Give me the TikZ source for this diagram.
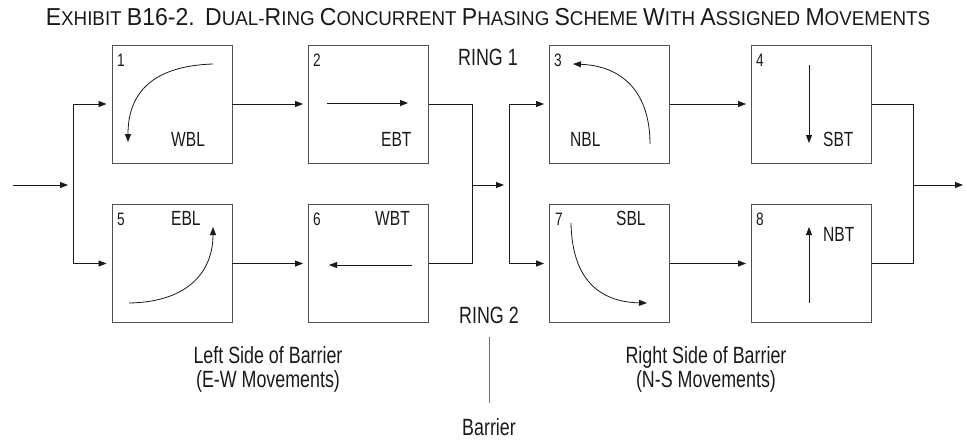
\documentclass[tikz,border=0pt]{standalone}
\usepackage{fontspec}
\setmainfont{Liberation Sans}[FakeStretch=0.76]
\newfontfamily\titlefont{Liberation Sans}[FakeStretch=0.94]
\usetikzlibrary{arrows.meta,positioning,calc}
\definecolor{ink}{HTML}{1A1A1A}
\definecolor{frame}{HTML}{505050}
\definecolor{barline}{HTML}{707070}
\newcommand{\ttlcap}[1]{{\fontsize{24.5}{24.5}\selectfont #1}}

\begin{document}
\begin{tikzpicture}[x=1pt,y=-1pt,
  phase/.style={draw=frame,line width=0.9pt,minimum width=120pt,minimum height=118pt,inner sep=0pt},
  flow/.style={draw=ink,line width=0.8pt,-{Triangle[length=8pt,width=6pt]},shorten >=5pt},
  wire/.style={draw=ink,line width=0.8pt},
  move/.style={draw=ink,line width=0.8pt,-{Triangle[length=8pt,width=6pt]}},
  num/.style={font=\fontsize{18}{18}\selectfont,text=ink,anchor=base west,inner sep=0pt},
  mlab/.style={font=\fontsize{20.5}{20.5}\selectfont,text=ink,anchor=base west,inner sep=0pt},
  big/.style={font=\fontsize{23.5}{24}\selectfont,text=ink,align=center,anchor=base,inner sep=0pt}]
  \useasboundingbox (0,0) rectangle (966,440);
  % title
  \node[anchor=base,inner sep=0pt,text=ink,font=\titlefont\fontsize{20}{20}\selectfont] (title) at (488,25)
    {\ttlcap{E}XHIBIT \ttlcap{B16-2.}\ \ \ttlcap{D}UAL-\ttlcap{R}ING \ttlcap{C}ONCURRENT \ttlcap{P}HASING \ttlcap{S}CHEME \ttlcap{W}ITH \ttlcap{A}SSIGNED \ttlcap{M}OVEMENTS};
  % phase boxes
  \node[phase] (p1) at (172,104) {};
  \node[phase] (p2) at (368.5,104) {};
  \node[phase] (p3) at (609.5,104) {};
  \node[phase] (p4) at (811.5,104) {};
  \node[phase] (p5) at (172,263.5) {};
  \node[phase] (p6) at (368.5,263.5) {};
  \node[phase] (p7) at (609.5,263.5) {};
  \node[phase] (p8) at (811.5,263.5) {};
  % phase numbers
  \foreach \n/\x/\y in {1/117/66, 2/313/66, 3/554/66, 4/756/66, 5/117/225, 6/313/225, 7/555/225, 8/756/225}
    \node[num] (n\n) at (\x,\y) {\n};
  % movements
  \node[mlab] (m1) at (171,146) {WBL};
  \node[mlab] (m2) at (381,146) {EBT};
  \node[mlab] (m3) at (570,146) {NBL};
  \node[mlab] (m4) at (823,146) {SBT};
  \node[mlab] (m5) at (171,225) {EBL};
  \node[mlab] (m6) at (375,225) {WBT};
  \node[mlab] (m7) at (616,225) {SBL};
  \node[mlab] (m8) at (823,241) {NBT};
  \draw[move] (213,64) .. controls (150,66) and (128,95) .. (128,142);
  \draw[move] (327,103) -- (408,103);
  \draw[move] (650,144) .. controls (650,95) and (625,66) .. (573,64);
  \draw[move] (809,65) -- (809,143);
  \draw[move] (129,303) .. controls (190,302) and (213,270) .. (213,227);
  \draw[move] (412,265) -- (329,265);
  \draw[move] (571,223) .. controls (572,280) and (600,302) .. (647,303);
  \draw[move] (809,303) -- (809,227);
  % ring flow
  \coordinate (in) at (13,185);
  \coordinate (split1) at (73,185);
  \coordinate (join1) at (472,185);
  \coordinate (split2) at (509,185);
  \coordinate (join2) at (913,185);
  \coordinate (out) at (968,185);
  \draw[flow] (in) -- (split1);
  \draw[flow] (split1) |- (p1);
  \draw[flow] (split1) |- (p5);
  \draw[flow] (p1) -- (p2);
  \draw[flow] (p5) -- (p6);
  \draw[wire] (p2) -| (join1);
  \draw[wire] (p6) -| (join1);
  \draw[flow] (join1) -- (split2);
  \draw[flow] (split2) |- (p3);
  \draw[flow] (split2) |- (p7);
  \draw[flow] (p3) -- (p4);
  \draw[flow] (p7) -- (p8);
  \draw[wire] (p4) -| (join2);
  \draw[wire] (p8) -| (join2);
  \draw[flow] (join2) -- (out);
  % rings and barrier
  \node[big] (ring1) at (488,65) {RING 1};
  \node[big] (ring2) at (489,323) {RING 2};
  \node[big] (barrier) at (489,435) {Barrier};
  \draw[barline,line width=0.9pt] (489,337) -- (489,403);
  \node[big] (left) at (268,387) {Left Side of Barrier\\(E-W Movements)};
  \node[big] (right) at (706,387) {Right Side of Barrier\\(N-S Movements)};
\end{tikzpicture}
\end{document}
